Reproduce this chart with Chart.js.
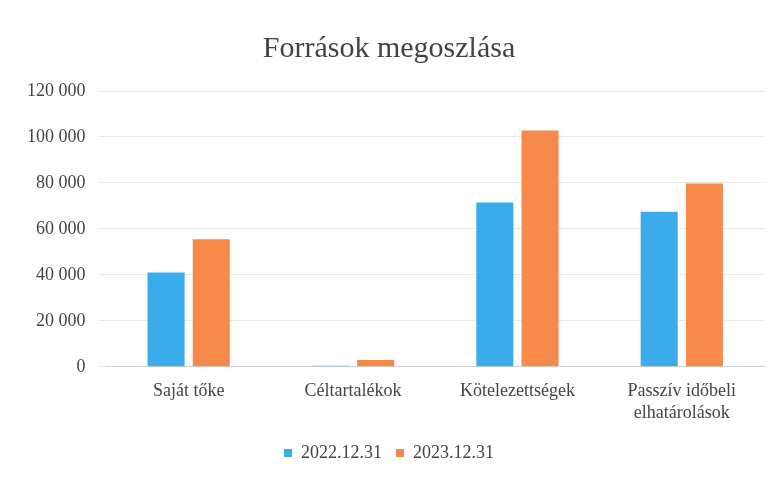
<!DOCTYPE html>
<html><head><meta charset="utf-8">
<script src="https://cdn.jsdelivr.net/npm/chart.js@4/dist/chart.umd.min.js"></script>
<style>html,body{margin:0;padding:0;background:#fff}#w{width:778px;height:478px;position:relative}</style>
</head><body><div id="w"><canvas id="c" width="778" height="478"></canvas></div>
<script>
const categories = ["Saját tőke", "Céltartalékok", "Kötelezettségek", ["Passzív időbeli", "elhatárolások"]];
const series2022 = [41000, 500, 71500, 67500];
const series2023 = [55500, 3000, 102800, 79800];
const seriesLabels = ["2022.12.31", "2023.12.31"];
const yTicks = [0, 20000, 40000, 60000, 80000, 100000, 120000];

const serif = "'Liberation Serif', 'DejaVu Serif', serif";
new Chart(document.getElementById('c'), {
  type: 'bar',
  data: {
    labels: categories,
    datasets: [
      {label: seriesLabels[0], data: series2022, backgroundColor: '#3aaceb', barPercentage: 0.82, categoryPercentage: 0.55},
      {label: seriesLabels[1], data: series2023, backgroundColor: '#f68a4b', barPercentage: 0.82, categoryPercentage: 0.55}
    ]
  },
  options: {
    responsive: false,
    animation: false,
    layout: {padding: {left: 14, right: 14, top: 14, bottom: 6}},
    plugins: {
      title: {display: true, text: 'Források megoszlása', color: '#444', font: {family: serif, size: 30, weight: 'normal'}, padding: {top: 17, bottom: 24}},
      legend: {position: 'bottom', labels: {color: '#444', font: {family: serif, size: 18}, boxWidth: 8, boxHeight: 8, padding: 14}},
      tooltip: {enabled: false}
    },
    scales: {
      x: {
        grid: {display: false},
        border: {color: '#d0d0d0'},
        ticks: {color: '#444', font: {family: serif, size: 18}, maxRotation: 0, padding: 6}
      },
      y: {
        min: 0, max: 120000,
        afterBuildTicks: (ax) => { ax.ticks = yTicks.map(v => ({value: v})); },
        grid: {color: '#e8e8e8'},
        border: {display: false},
        ticks: {color: '#444', font: {family: serif, size: 18}, padding: 13,
          callback: v => v.toLocaleString('en-US').replace(/,/g, ' ')}
      }
    }
  }
});
</script></body></html>
